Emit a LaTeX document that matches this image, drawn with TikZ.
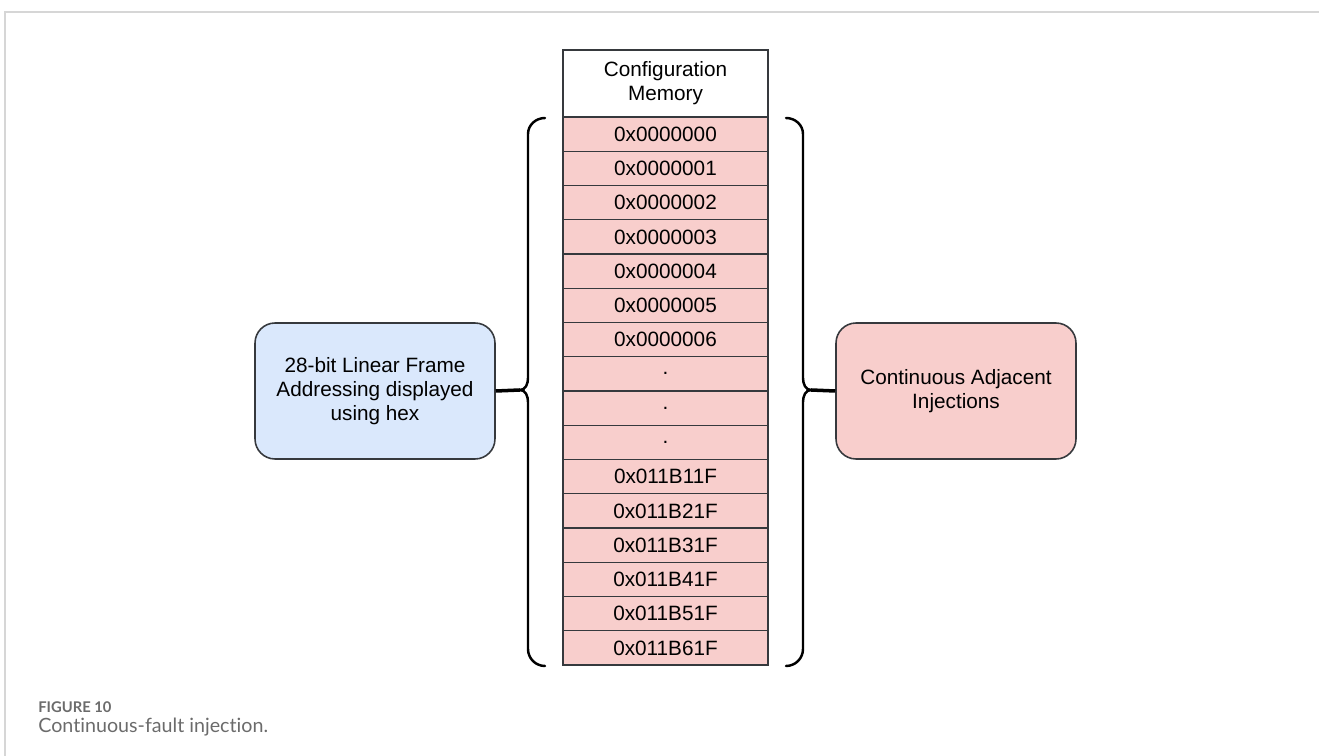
\documentclass[tikz,border=0pt]{standalone}
\usepackage{fontspec}
\setmainfont{Liberation Sans}
\newfontfamily\capfont[Ligatures=NoCommon]{Lato}
\usetikzlibrary{positioning}
\definecolor{cellred}{HTML}{F8CECC}
\definecolor{boxblue}{HTML}{DAE8FC}
\definecolor{edge}{HTML}{36393D}
\definecolor{framegray}{HTML}{D6D6D6}
\definecolor{capgray}{HTML}{6B6B6B}

\begin{document}
\begin{tikzpicture}[x=0.02cm, y=-0.02cm,
  every node/.style={font=\fontsize{11.8}{13.8}\selectfont},
  cell/.style={draw=edge, line width=0.8pt, fill=cellred, minimum width=4.1cm,
    minimum height=0.685cm, inner sep=0pt, outer sep=0pt},
  hdr/.style={cell, fill=white, minimum height=1.34cm, align=center},
  side/.style={draw=edge, line width=0.9pt, rounded corners=0.4cm,
    minimum width=4.8cm, minimum height=2.72cm, align=center},
  brace/.style={line width=1.4pt, line cap=round},
  joint/.style={line width=2pt}
]
\useasboundingbox (0,0) rectangle (1319,756);
% page frame
\draw[framegray, line width=0.8pt] (1319,12) -- (5,12) -- (5,756);

% memory column
\node[hdr] (mem) at (665.5,83.5) {Configuration\\Memory};
\foreach \addr [count=\i] in {0x0000000,0x0000001,0x0000002,0x0000003,
    0x0000004,0x0000005,0x0000006,.,.,.,0x011B11F,0x011B21F,0x011B31F,
    0x011B41F,0x011B51F,0x011B61F}
  \node[cell] (c\i) at (665.5,{117+34.25*(\i-0.5)}) {\addr};

% side boxes
\node[side, fill=boxblue] (lfa) at (375,391)
  {28-bit Linear Frame\\Addressing displayed\\using hex};
\node[side, fill=cellred] (cai) at (956,391) {Continuous Adjacent\\Injections};

% braces
\coordinate (ltip) at (520,390);
\coordinate (rtip) at (811,390);
\draw[brace] (545,118) to[out=180,in=90] (528,134) -- (528,378)
  to[out=-90,in=0] (ltip) to[out=0,in=90] (528,402) -- (528,649)
  to[out=-90,in=180] (545,666);
\draw[brace] (786,118) to[out=0,in=90] (803,134) -- (803,378)
  to[out=-90,in=180] (rtip) to[out=180,in=90] (803,402) -- (803,649)
  to[out=-90,in=0] (786,666);
\draw[joint] (lfa.east) -- (ltip);
\draw[joint] (cai.west) -- (rtip);

% caption
\node[anchor=base west, inner sep=0pt, text=capgray,
  font=\capfont\bfseries\fontsize{8.4}{10}\selectfont] (fig) at (38,712) {FIGURE 10};
\node[anchor=base west, inner sep=0pt, text=capgray,
  font=\capfont\fontsize{11.2}{13}\selectfont] (cap) at (38,732)
  {Continuous-fault injection.};
\end{tikzpicture}
\end{document}
